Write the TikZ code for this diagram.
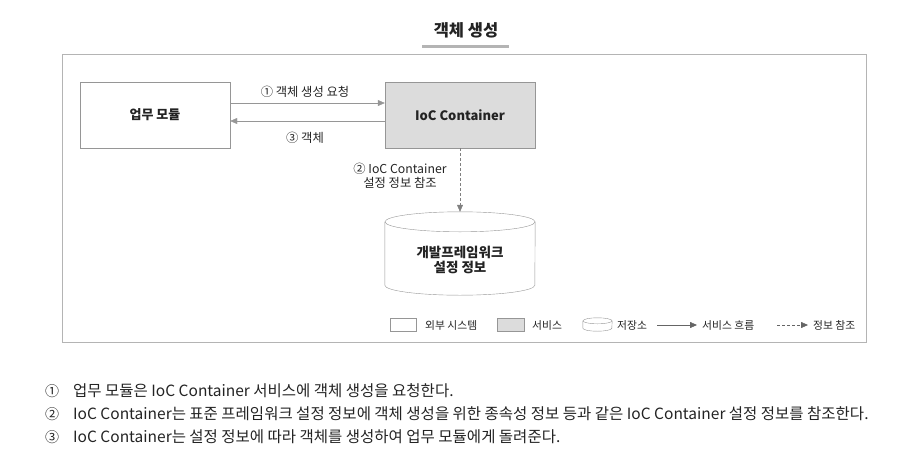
\documentclass[tikz,border=0pt]{standalone}
\usepackage{fontspec}
\usepackage{xcolor}
\usepackage{tikz}
\usetikzlibrary{arrows.meta}
\setmainfont{Noto Sans CJK KR}
\definecolor{framegray}{RGB}{180,180,180}
\definecolor{linegray}{RGB}{150,150,150}
\definecolor{servicegray}{RGB}{220,220,220}
\definecolor{textdark}{RGB}{35,35,35}

\tikzset{
  sysbox/.style={draw=linegray, minimum width=150pt, minimum height=66pt, text=textdark,
    font=\bfseries\fontsize{13}{15}\selectfont},
  flowarrow/.style={draw=linegray, -{Triangle[length=7pt,width=6pt]}},
  refarrow/.style={draw=gray, dash pattern=on 3pt off 2pt, -{Triangle[length=7pt,width=6pt]}},
  smalltext/.style={text=textdark, font=\fontsize{12.3}{14}\selectfont},
  legendtext/.style={text=textdark, anchor=west, inner sep=0pt, font=\fontsize{10.8}{12}\selectfont},
  notetext/.style={text=textdark, anchor=west, inner sep=0pt, font=\fontsize{15.5}{18}\selectfont},
}

\begin{document}
\begin{tikzpicture}[x=1pt, y=-1pt]
\useasboundingbox (0,0) rectangle (916,461);

% Title
\node[text=textdark, font=\bfseries\fontsize{16.5}{18}\selectfont] (title) at (466,30) {객체 생성};
\draw[framegray, line width=3pt] (422,46) -- (509,46);

% Frame
\draw[framegray, line width=1pt] (62,54) rectangle (866,342);

% Boxes
\node[sysbox] (work) at (155,115) {업무 모듈};
\node[sysbox, fill=servicegray] (ioc) at (460,115) {IoC Container};

% Storage drum
\node[minimum width=150pt, minimum height=83pt, inner sep=0pt] (db) at (460,253.5) {};
\draw[linegray] ([yshift=-10pt]db.north west) -- ([yshift=10pt]db.south west)
  arc[start angle=180, end angle=360, x radius=75pt, y radius=10pt] -- ([yshift=-10pt]db.north east);
\draw[linegray] ([yshift=-10pt]db.north) ellipse[x radius=75pt, y radius=10pt];
\node[text=textdark, align=center, font=\bfseries\fontsize{13.5}{14.5}\selectfont] (dbtext)
  at ([yshift=-6.5pt]db.center) {개발프레임워크\\설정 정보};

% Flows
\draw[flowarrow] ([yshift=12pt]work.east) -- ([yshift=12pt]ioc.west);
\draw[flowarrow] ([yshift=-6pt]ioc.west) -- ([yshift=-6pt]work.east);
\node[smalltext] (reqlabel) at (305,92) {① 객체 생성 요청};
\node[smalltext] (retlabel) at (305,138) {③ 객체};
\draw[refarrow] (ioc.south) -- (db.north);
\node[smalltext, align=center] (reflabel) at (400,176) {② IoC Container\\설정 정보 참조};

% Legend
\node[draw=linegray, minimum width=26pt, minimum height=13pt, inner sep=0pt] (lgext) at (403,324.5) {};
\node[draw=linegray, fill=servicegray, minimum width=27pt, minimum height=13pt, inner sep=0pt] (lgsvc) at (510.5,324.5) {};
\node[minimum width=29pt, minimum height=13pt, inner sep=0pt] (lgdb) at (597.5,324.5) {};
\draw[linegray] ([yshift=-3pt]lgdb.north west) -- ([yshift=3pt]lgdb.south west)
  arc[start angle=180, end angle=360, x radius=14.5pt, y radius=3pt] -- ([yshift=-3pt]lgdb.north east);
\draw[linegray] ([yshift=-3pt]lgdb.north) ellipse[x radius=14.5pt, y radius=3pt];
\coordinate (lgflowa) at (657,325);
\coordinate (lgflowb) at (697,325);
\coordinate (lgrefa) at (777,325);
\coordinate (lgrefb) at (808,325);
\draw[flowarrow, draw=textdark!70] (lgflowa) -- (lgflowb);
\draw[refarrow, draw=textdark!70] (lgrefa) -- (lgrefb);
\foreach \x/\name/\txt in {425/ext/외부 시스템, 532/svc/서비스, 617/db/저장소, 702/flow/서비스 흐름, 813/ref/정보 참조} {
    \node[legendtext] (lgtxt\name) at (\x,325) {\txt};
}

% Notes
\foreach \y/\num/\txt in {391/①/업무 모듈은 IoC Container 서비스에 객체 생성을 요청한다.,
    414/②/IoC Container는 표준 프레임워크 설정 정보에 객체 생성을 위한 종속성 정보 등과 같은 IoC Container 설정 정보를 참조한다.,
    437/③/IoC Container는 설정 정보에 따라 객체를 생성하여 업무 모듈에게 돌려준다.} {
    \node[text=textdark, font=\fontsize{14}{16}\selectfont] (num\y) at (52,\y) {\num};
    \node[notetext] (note\y) at (73,\y) {\txt};
}
\end{tikzpicture}
\end{document}
